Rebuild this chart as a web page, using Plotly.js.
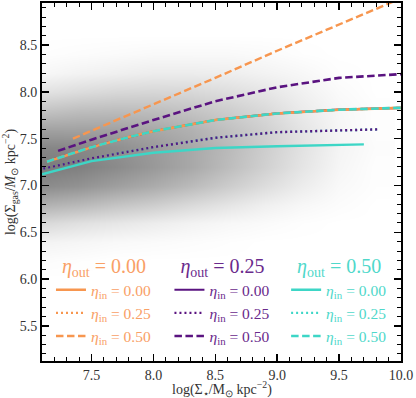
<!DOCTYPE html>
<html><head><meta charset="utf-8">
<script src="https://cdn.plot.ly/plotly-3.0.1.min.js"></script>
<style>html,body{margin:0;padding:0;background:#fff}#plot{width:416px;height:398px}</style>
</head><body><div id="plot"></div>
<script>
// background density (normalized), columns = logSigmaStar centers, rows = logSigmaGas centers
const densX = [7.1, 7.4, 7.7, 8.0, 8.3, 8.6, 8.9, 9.2, 9.5, 9.8];
const densY = [6.0, 6.2, 6.4, 6.6, 6.8, 7.0, 7.2, 7.4, 7.6, 7.8, 8.0, 8.2, 8.4, 8.6, 8.8];
const densZ = [
  [0,0,0,0,0,0,0,0,0,0],
  [0.02,0.01,0,0,0,0,0,0,0,0],
  [0.08,0.06,0.04,0.03,0.02,0.01,0,0,0,0],
  [0.25,0.2,0.16,0.12,0.08,0.05,0.03,0.01,0,0],
  [0.5,0.45,0.38,0.32,0.24,0.17,0.1,0.05,0.02,0],
  [0.75,0.7,0.62,0.54,0.44,0.33,0.22,0.12,0.04,0.01],
  [0.85,0.82,0.75,0.66,0.56,0.43,0.3,0.17,0.06,0.01],
  [0.78,0.77,0.72,0.65,0.56,0.45,0.32,0.19,0.07,0.02],
  [0.6,0.6,0.6,0.56,0.5,0.4,0.3,0.17,0.06,0.01],
  [0.38,0.42,0.43,0.42,0.38,0.32,0.24,0.13,0.05,0.01],
  [0.18,0.22,0.25,0.26,0.25,0.21,0.16,0.09,0.03,0],
  [0.05,0.08,0.1,0.12,0.12,0.11,0.08,0.05,0.01,0],
  [0.01,0.02,0.03,0.04,0.04,0.04,0.03,0.01,0,0],
  [0,0,0,0,0,0,0,0,0,0],
  [0,0,0,0,0,0,0,0,0,0]
];

// model curves: eta_out / eta_in
const out000_in000_x = [7.14, 7.5, 7.81, 8.0, 8.5, 9.0, 9.5, 10.0];
const out000_in000_y = [7.255, 7.41, 7.52, 7.58, 7.70, 7.77, 7.81, 7.83];
const out000_in025_x = [7.14, 7.5, 7.81, 8.0, 8.5, 9.0, 9.5, 10.0];
const out000_in025_y = [7.255, 7.41, 7.52, 7.58, 7.70, 7.77, 7.81, 7.83];
const out000_in050_x = [7.35, 7.6, 8.0, 8.5, 9.0, 9.5, 10.0];
const out000_in050_y = [7.50, 7.64, 7.87, 8.15, 8.44, 8.72, 9.00];

const out025_in000_x = [7.14, 7.5, 7.81, 8.0, 8.5, 9.0, 9.5, 10.0];
const out025_in000_y = [7.255, 7.41, 7.52, 7.58, 7.70, 7.77, 7.81, 7.83];
const out025_in025_x = [7.11, 7.5, 8.0, 8.5, 9.0, 9.5, 9.82];
const out025_in025_y = [7.18, 7.29, 7.41, 7.51, 7.57, 7.59, 7.60];
const out025_in050_x = [7.23, 7.5, 8.0, 8.5, 9.0, 9.5, 10.0];
const out025_in050_y = [7.37, 7.49, 7.70, 7.90, 8.05, 8.15, 8.19];

const out050_in000_x = [7.1, 7.5, 8.0, 8.5, 9.0, 9.5, 9.7];
const out050_in000_y = [7.12, 7.26, 7.35, 7.40, 7.42, 7.43, 7.44];
const out050_in025_x = [7.11, 7.5, 8.0, 8.5, 9.0, 9.5, 9.82];
const out050_in025_y = [7.18, 7.29, 7.41, 7.51, 7.57, 7.59, 7.60];
const out050_in050_x = [7.14, 7.5, 7.81, 8.0, 8.5, 9.0, 9.5, 10.0];
const out050_in050_y = [7.255, 7.41, 7.52, 7.58, 7.70, 7.77, 7.81, 7.83];

const etaLabels = ['0.00', '0.25', '0.50'];
const xTitle = 'log(Σ<sub>⋆</sub>/M<sub>⊙</sub> kpc<sup>−2</sup>)';
const yTitle = 'log(Σ<sub>gas</sub>/<i>M</i><sub>⊙</sub> kpc<sup>−2</sup>)';
const cOrange = '#f7964f', cPurple = '#5a1380', cCyan = '#3dd6c6';
const tOrange = '#f9a066', tPurple = '#6a2a8c', tCyan = '#4fd8ca';
const FONT = 'Liberation Serif, Times New Roman, serif';

function line(x, y, color, dash, width, legend, rank, inLabel) {
  return {type:'scatter', mode:'lines', x:x, y:y, line:{color:color, dash:dash, width:width},
    legend:legend, legendrank:rank, name:'<i>η</i><sub>in</sub> = ' + inLabel, hoverinfo:'skip'};
}
const DOT = '2px,3px', DASH = '7.5px,3.5px';
const traces = [
  {type:'heatmap', x:densX, y:densY, z:densZ, zmin:0, zmax:1, zsmooth:'best', showscale:false,
   colorscale:[[0,'rgb(255,255,255)'],[1,'rgb(100,100,100)']], hoverinfo:'skip'},
  line(out025_in000_x, out025_in000_y, cPurple, 'solid', 2.2, 'legend2', 1, etaLabels[0]),
  line(out000_in000_x, out000_in000_y, cOrange, 'solid', 2.6, 'legend', 1, etaLabels[0]),
  line(out000_in025_x, out000_in025_y, cOrange, DOT, 2.4, 'legend', 2, etaLabels[1]),
  line(out000_in050_x, out000_in050_y, cOrange, DASH, 2.4, 'legend', 3, etaLabels[2]),
  line(out050_in025_x, out050_in025_y, cCyan, DOT, 2.4, 'legend3', 2, etaLabels[1]),
  line(out025_in025_x, out025_in025_y, cPurple, DOT, 2.4, 'legend2', 2, etaLabels[1]),
  line(out025_in050_x, out025_in050_y, cPurple, DASH, 2.6, 'legend2', 3, etaLabels[2]),
  line(out050_in000_x, out050_in000_y, cCyan, 'solid', 2.4, 'legend3', 1, etaLabels[0]),
  line(out050_in050_x, out050_in050_y, cCyan, DASH, 2.6, 'legend3', 3, etaLabels[2])
];

function leg(x, color, outLabel) {
  return {x:x, y:0.318, xanchor:'left', yanchor:'top', bgcolor:'rgba(0,0,0,0)', borderwidth:0,
    tracegroupgap:0, itemwidth:30, traceorder:'normal',
    font:{family:FONT, size:15.5, color:color},
    title:{text:'<i>η</i><sub>out</sub> = ' + outLabel, side:'top center', font:{family:FONT, size:20, color:color}}};
}

const axisCommon = {showline:true, linewidth:2, linecolor:'black', mirror:'allticks', ticks:'inside',
  ticklen:7, tickwidth:1.5, tickcolor:'black', showgrid:false, zeroline:false,
  tickfont:{family:FONT, size:14, color:'#333'},
  minor:{dtick:0.1, ticks:'inside', ticklen:4, tickwidth:1, tickcolor:'black', showgrid:false}};

const layout = {
  width:416, height:398, margin:{l:42, r:15, t:3, b:37},
  paper_bgcolor:'white', plot_bgcolor:'white', showlegend:true,
  xaxis:Object.assign({}, axisCommon, {range:[7.1, 10.0], dtick:0.5, tick0:7.5, tickformat:'.1f'}),
  yaxis:Object.assign({}, axisCommon, {range:[5.125, 8.95], dtick:0.5, tick0:5.5, tickformat:'.1f',
    title:{text:yTitle, font:{family:FONT, size:14, color:'#333'}, standoff:4}}),
  annotations:[{text:xTitle, xref:'paper', yref:'paper', x:0.5, y:-0.077, xanchor:'center', yanchor:'middle',
    showarrow:false, font:{family:FONT, size:14, color:'#333'}}],
  legend:leg(0.025, tOrange, etaLabels[0]),
  legend2:leg(0.355, tPurple, etaLabels[1]),
  legend3:leg(0.68, tCyan, etaLabels[2])
};
Plotly.newPlot('plot', traces, layout, {staticPlot:true, displayModeBar:false});
</script></body></html>
